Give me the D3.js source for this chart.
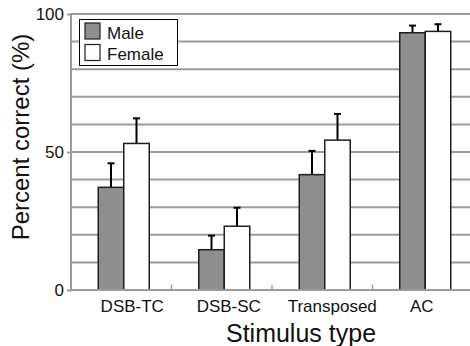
<!DOCTYPE html>
<html>
<head>
<meta charset="utf-8">
<script src="https://cdn.jsdelivr.net/npm/d3@7"></script>
<style>
  html, body { margin: 0; padding: 0; background: #fff; }
  svg { display: block; font-family: 'Liberation Sans', Arial, sans-serif; }
</style>
</head>
<body>
<div id="chart"></div>
<script>
// data
const categories = ['DSB-TC', 'DSB-SC', 'Transposed', 'AC'];
const groups = ['Male', 'Female'];
const maleMean = [37.2, 14.6, 41.8, 93.2];
const maleErr = [8.7, 5.1, 8.6, 2.6];
const femaleMean = [53.1, 23.1, 54.3, 93.7];
const femaleErr = [9.1, 6.7, 9.5, 2.6];
const yTicks = [0, 50, 100];
const yGrid = d3.range(0, 101, 10);

const W = 470, H = 346;
const M = { left: 71, top: 14, bottom: 56 };

const COL = {
  grid: '#9b9b9b',
  male: '#8e8e8e',
  female: '#ffffff',
  barStroke: '#1e1e1e',
  text: '#111',
};

// small tweaks to line the tick labels up like the original
const labelShift = [11, 7, 10, -1];

const svg = d3.select('#chart').append('svg')
  .attr('width', W).attr('height', H);

const x0 = d3.scaleBand().domain(categories).range([M.left, 473]).padding(0);
const x1 = d3.scaleBand().domain(groups).range([0, 51]);
const y = d3.scaleLinear().domain([0, 100]).range([H - M.bottom, M.top]);

// gridlines
svg.append('g').selectAll('line').data(yGrid).enter().append('line')
  .attr('x1', M.left).attr('x2', W)
  .attr('y1', d => y(d)).attr('y2', d => y(d))
  .attr('stroke', COL.grid).attr('stroke-width', 2);

// left axis line + outward major ticks
svg.append('line')
  .attr('x1', M.left).attr('x2', M.left)
  .attr('y1', y(0) + 1).attr('y2', y(100) - 1)
  .attr('stroke', COL.grid).attr('stroke-width', 2);

const yAxis = svg.append('g').attr('transform', `translate(${M.left},0)`)
  .call(d3.axisLeft(y).tickValues(yTicks).tickSize(4).tickPadding(3));
yAxis.select('.domain').remove();
yAxis.selectAll('line').attr('stroke', COL.grid).attr('stroke-width', 2);
yAxis.selectAll('text')
  .attr('font-size', 17).attr('font-family', "'Liberation Sans', Arial, sans-serif")
  .attr('fill', COL.text);

// small ticks at category boundaries
svg.append('g').selectAll('line').data(categories.slice(1)).enter().append('line')
  .attr('x1', d => x0(d)).attr('x2', d => x0(d))
  .attr('y1', y(0) - 5).attr('y2', y(0))
  .attr('stroke', COL.grid).attr('stroke-width', 1.5);

// bars
const rows = categories.map((c, i) => ({
  cat: c,
  i,
  vals: [
    { g: 'Male', v: maleMean[i], e: maleErr[i] },
    { g: 'Female', v: femaleMean[i], e: femaleErr[i] },
  ],
}));

const barOff = (x0.bandwidth() - 51) / 2 + 2.5;

const cat = svg.append('g').selectAll('g').data(rows).enter().append('g')
  .attr('transform', d => `translate(${x0(d.cat) + barOff},0)`);

// error bars (upper only), drawn under the bars
cat.selectAll('.err').data(d => d.vals).enter().append('line')
  .attr('class', 'err')
  .attr('x1', d => x1(d.g) + x1.bandwidth() / 2)
  .attr('x2', d => x1(d.g) + x1.bandwidth() / 2)
  .attr('y1', d => y(d.v)).attr('y2', d => y(d.v + d.e))
  .attr('stroke', '#000').attr('stroke-width', 2);

cat.selectAll('.cap').data(d => d.vals).enter().append('line')
  .attr('class', 'cap')
  .attr('x1', d => x1(d.g) + x1.bandwidth() / 2 - 3.5)
  .attr('x2', d => x1(d.g) + x1.bandwidth() / 2 + 3.5)
  .attr('y1', d => y(d.v + d.e)).attr('y2', d => y(d.v + d.e))
  .attr('stroke', '#000').attr('stroke-width', 2);

cat.selectAll('rect').data(d => d.vals).enter().append('rect')
  .attr('x', d => x1(d.g))
  .attr('y', d => y(d.v))
  .attr('width', x1.bandwidth())
  .attr('height', d => y(0) - y(d.v))
  .attr('fill', d => d.g === 'Male' ? COL.male : COL.female)
  .attr('stroke', COL.barStroke)
  .attr('stroke-width', 1.5);

// bottom axis line
svg.append('line')
  .attr('x1', M.left - 1).attr('x2', W)
  .attr('y1', y(0)).attr('y2', y(0))
  .attr('stroke', COL.grid).attr('stroke-width', 2);

// category labels
svg.append('g').selectAll('text').data(categories).enter().append('text')
  .text(d => d)
  .attr('x', (d, i) => x0(d) + x0.bandwidth() / 2 + labelShift[i])
  .attr('y', 312)
  .attr('text-anchor', 'middle')
  .attr('font-size', 17)
  .attr('fill', COL.text);

// axis titles
svg.append('text')
  .text('Stimulus type')
  .attr('x', 301).attr('y', 342)
  .attr('text-anchor', 'middle')
  .attr('font-size', 25)
  .attr('fill', COL.text);

svg.append('text')
  .text('Percent correct (%)')
  .attr('transform', 'translate(29,137) rotate(-90)')
  .attr('text-anchor', 'middle')
  .attr('font-size', 24)
  .attr('fill', COL.text);

// legend
const leg = svg.append('g');
leg.append('rect')
  .attr('x', 79.5).attr('y', 19.5).attr('width', 98).attr('height', 46)
  .attr('fill', '#fff').attr('stroke', '#000').attr('stroke-width', 1);

const legItems = leg.selectAll('g').data(groups).enter().append('g')
  .attr('transform', (d, i) => `translate(85,${23 + i * 21.5})`);
legItems.append('rect')
  .attr('width', 15).attr('height', 16)
  .attr('fill', d => d === 'Male' ? COL.male : COL.female)
  .attr('stroke', COL.barStroke).attr('stroke-width', 1.2);
legItems.append('text')
  .text(d => d)
  .attr('x', 22).attr('y', 15.5)
  .attr('font-size', 17)
  .attr('fill', COL.text);
</script>
</body>
</html>
